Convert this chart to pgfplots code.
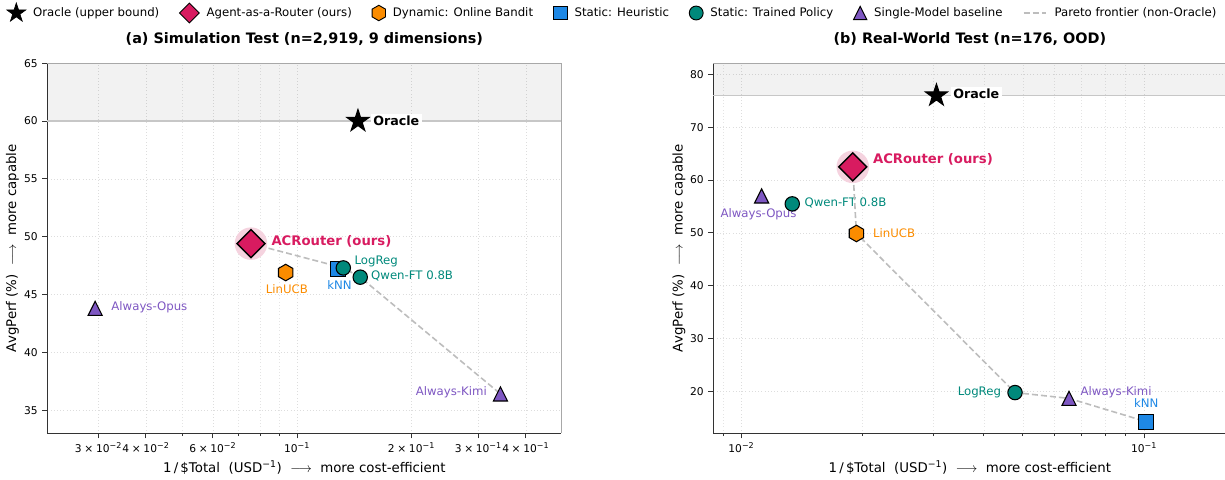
\documentclass[border=0pt]{standalone}
\usepackage{fontspec}
\setmainfont{DejaVu Sans}
\usepackage{pgfplots}
\pgfplotsset{compat=1.18}

\definecolor{crim}{HTML}{D81B60}
\definecolor{orng}{HTML}{FB8C00}
\definecolor{blu}{HTML}{1E88E5}
\definecolor{tealc}{HTML}{00897B}
\definecolor{purp}{HTML}{7E57C2}
\definecolor{pareto}{HTML}{BDBDBD}
\definecolor{gridc}{HTML}{DDDDDD}
\definecolor{spinedark}{HTML}{333333}
\definecolor{spinelight}{HTML}{A8A8A8}
\definecolor{halo}{HTML}{F5D3DF}

\pgfdeclareplotmark{fstar}{%
 \pgfpathmoveto{\pgfpointpolar{90}{\pgfplotmarksize}}%
 \pgfpathlineto{\pgfpointpolar{126}{0.382\pgfplotmarksize}}%
 \pgfpathlineto{\pgfpointpolar{162}{\pgfplotmarksize}}%
 \pgfpathlineto{\pgfpointpolar{198}{0.382\pgfplotmarksize}}%
 \pgfpathlineto{\pgfpointpolar{234}{\pgfplotmarksize}}%
 \pgfpathlineto{\pgfpointpolar{270}{0.382\pgfplotmarksize}}%
 \pgfpathlineto{\pgfpointpolar{306}{\pgfplotmarksize}}%
 \pgfpathlineto{\pgfpointpolar{342}{0.382\pgfplotmarksize}}%
 \pgfpathlineto{\pgfpointpolar{18}{\pgfplotmarksize}}%
 \pgfpathlineto{\pgfpointpolar{54}{0.382\pgfplotmarksize}}%
 \pgfpathclose\pgfusepathqfillstroke}
\pgfdeclareplotmark{fdiam}{%
 \pgfpathmoveto{\pgfpoint{0pt}{\pgfplotmarksize}}%
 \pgfpathlineto{\pgfpoint{\pgfplotmarksize}{0pt}}%
 \pgfpathlineto{\pgfpoint{0pt}{-\pgfplotmarksize}}%
 \pgfpathlineto{\pgfpoint{-\pgfplotmarksize}{0pt}}%
 \pgfpathclose\pgfusepathqfillstroke}
\pgfdeclareplotmark{fhex}{%
 \pgfpathmoveto{\pgfpointpolar{90}{\pgfplotmarksize}}%
 \pgfpathlineto{\pgfpointpolar{150}{\pgfplotmarksize}}%
 \pgfpathlineto{\pgfpointpolar{210}{\pgfplotmarksize}}%
 \pgfpathlineto{\pgfpointpolar{270}{\pgfplotmarksize}}%
 \pgfpathlineto{\pgfpointpolar{330}{\pgfplotmarksize}}%
 \pgfpathlineto{\pgfpointpolar{30}{\pgfplotmarksize}}%
 \pgfpathclose\pgfusepathqfillstroke}
\pgfdeclareplotmark{ftri}{%
 \pgfpathmoveto{\pgfpoint{0pt}{\pgfplotmarksize}}%
 \pgfpathlineto{\pgfpoint{-\pgfplotmarksize}{-\pgfplotmarksize}}%
 \pgfpathlineto{\pgfpoint{\pgfplotmarksize}{-\pgfplotmarksize}}%
 \pgfpathclose\pgfusepathqfillstroke}
\pgfdeclareplotmark{fdisc}{%
 \pgfpathcircle{\pgfpointorigin}{\pgfplotmarksize}%
 \pgfusepathqfill}

\tikzset{
  ann/.style={font=\fontsize{8.8}{10.5}\selectfont, text=#1, inner sep=0pt},
  annb/.style={font=\bfseries\fontsize{9.9}{12}\selectfont, text=#1, inner sep=0pt},
  orc/.style={font=\bfseries\fontsize{9.5}{11}\selectfont, text=black, fill=white, inner sep=1.8pt},
}
\newcommand{\tl}[2]{#1\kern0.25em×\kern0.25em10\textsuperscript{−#2}}
\pgfplotsset{
  mk/.style={only marks, forget plot, mark options={draw=black, line width=0.8pt, fill=#1}},
  mkd/.style={only marks, forget plot, mark=fdiam, mark size=10.5pt, mark options={draw=black, line width=1.1pt, fill=crim}},
  par/.style={pareto, line width=1.2pt, dash pattern=on 4.5pt off 2.3pt, forget plot},
  halomk/.style={only marks, forget plot, mark=fdisc, mark size=12.2pt, color=halo, mark options={fill=halo, draw=none}},
}

\begin{document}
\begin{tikzpicture}
\path[use as bounding box] (0,0) rectangle (918.75pt,359.25pt);

% ---------------- Left panel ----------------
\begin{axis}[
  scale only axis, height=277.5pt, xmode=log,
  axis x line*=bottom, axis y line*=left,
  axis line style={spinedark, line width=0.8pt},
  tick align=outside, tick style={spinedark, line width=0.8pt},
  major tick length=3.75pt, minor tick length=2.2pt,
  grid=both,
  major grid style={gridc, dotted, line width=0.5pt},
  minor grid style={gridc!80, dotted, line width=0.45pt},
  tick label style={font=\fontsize{8}{9.6}\selectfont},
  /pgf/number format/assume math mode=true,
  clip=false,
  label style={font=\fontsize{10}{12}\selectfont},
  title style={font=\bfseries\fontsize{10.8}{13}\selectfont, at={(0.5,1.0432)}, anchor=center},
  xlabel style={at={(axis description cs:0.5,-0.093)}, anchor=center},
  xlabel={1\,/\,\$Total\ \ (USD\textsuperscript{−1})\ \ $\longrightarrow$\ \ more cost-efficient},
  ylabel={AvgPerf (\%)\ \ $\longrightarrow$\ \ more capable},
  at={(35.5pt,34.3pt)}, anchor=south west, width=385.5pt,
  xmin=0.022, xmax=0.496, ymin=33, ymax=65,
  ytick={35,40,45,50,55,60,65},
  xtick={0.03,0.04,0.06,0.1,0.2,0.3,0.4},
  xticklabels={\tl{3}{2},\tl{4}{2},\tl{6}{2},10\textsuperscript{−1},\tl{2}{1},\tl{3}{1},\tl{4}{1}},
  minor xtick={0.05,0.07,0.08,0.09},
  ylabel style={at={(axis description cs:-0.068,0.5)}, anchor=center},
  title={(a) Simulation Test (n=2,919, 9 dimensions)},
  legend style={at={(1.1005,1.136)}, anchor=center, draw=none, fill=none,
    legend columns=7, font=\fontsize{8.8}{10.5}\selectfont,
    /tikz/every odd column/.append style={column sep=3.5pt},
    /tikz/every even column/.append style={column sep=13.2pt}},
  legend cell align=left,
]
\addlegendimage{only marks, mark=fstar, mark size=7.5pt, mark options={fill=black, draw=black, line width=0.5pt}}
\addlegendentry{Oracle (upper bound)}
\addlegendimage{only marks, mark=fdiam, mark size=7.4pt, mark options={fill=crim, draw=black, line width=0.7pt}}
\addlegendentry{Agent-as-a-Router (ours)}
\addlegendimage{only marks, mark=fhex, mark size=5.8pt, mark options={fill=orng, draw=black, line width=0.7pt}}
\addlegendentry{Dynamic: Online Bandit}
\addlegendimage{only marks, mark=square*, mark size=5.2pt, mark options={fill=blu, draw=black, line width=0.7pt}}
\addlegendentry{Static: Heuristic}
\addlegendimage{only marks, mark=*, mark size=5.2pt, mark options={fill=tealc, draw=black, line width=0.7pt}}
\addlegendentry{Static: Trained Policy}
\addlegendimage{only marks, mark=ftri, mark size=5pt, mark options={fill=purp, draw=black, line width=0.7pt}}
\addlegendentry{Single-Model baseline}
\addlegendimage{pareto, line width=1.2pt, dash pattern=on 4.5pt off 2.3pt}
\addlegendentry{Pareto frontier (non-Oracle)}

\addplot[draw=none, fill=black, fill opacity=0.05, forget plot] coordinates {(0.022,60) (0.496,60) (0.496,65) (0.022,65)} -- cycle;
\addplot[black!22, line width=0.9pt, forget plot] coordinates {(0.022,60) (0.496,60)};
\draw[spinelight, line width=0.8pt] (rel axis cs:0,1) -- (rel axis cs:1,1) -- (rel axis cs:1,0);

\addplot[par] coordinates {(0.0756,49.4) (0.1323,47.3) (0.1466,46.5) (0.343,36.4)};
\addplot[halomk] coordinates {(0.0756,49.4)};

\addplot[mk=purp, mark=ftri, mark size=5.3pt] coordinates {(0.0294,43.8) (0.343,36.4)};
\addplot[mk=orng, mark=fhex, mark size=6.2pt] coordinates {(0.0933,46.9)};
\addplot[mk=blu, mark=square*, mark size=5.7pt] coordinates {(0.1283,47.2)};
\addplot[mk=tealc, mark=*, mark size=5.4pt] coordinates {(0.1323,47.3) (0.1466,46.5)};
\addplot[mkd] coordinates {(0.0756,49.4)};
\addplot[mk=black, mark=fstar, mark size=8.7pt] coordinates {(0.1446,60)};

\node[orc, anchor=west, xshift=9.5pt] at (axis cs:0.1446,60) {Oracle};
\node[annb=crim, anchor=west, xshift=15.2pt, yshift=2pt] at (axis cs:0.0756,49.4) {ACRouter (ours)};
\node[ann=tealc, anchor=west, xshift=8.3pt, yshift=4.8pt] at (axis cs:0.1323,47.3) {LogReg};
\node[ann=tealc, anchor=west, xshift=8pt, yshift=1pt] at (axis cs:0.1466,46.5) {Qwen-FT 0.8B};
\node[ann=blu, anchor=center, xshift=1pt, yshift=-12.3pt] at (axis cs:0.1283,47.2) {kNN};
\node[ann=orng, anchor=center, xshift=0.9pt, yshift=-12.8pt] at (axis cs:0.0933,46.9) {LinUCB};
\node[ann=purp, anchor=west, xshift=12pt, yshift=0.75pt] at (axis cs:0.0294,43.8) {Always-Opus};
\node[ann=purp, anchor=east, xshift=-10pt, yshift=1pt] at (axis cs:0.343,36.4) {Always-Kimi};
\end{axis}

% ---------------- Right panel ----------------
\begin{axis}[
  scale only axis, height=277.5pt, xmode=log,
  axis x line*=bottom, axis y line*=left,
  axis line style={spinedark, line width=0.8pt},
  tick align=outside, tick style={spinedark, line width=0.8pt},
  major tick length=3.75pt, minor tick length=2.2pt,
  grid=both,
  major grid style={gridc, dotted, line width=0.5pt},
  minor grid style={gridc!80, dotted, line width=0.45pt},
  tick label style={font=\fontsize{8}{9.6}\selectfont},
  /pgf/number format/assume math mode=true,
  clip=false,
  label style={font=\fontsize{10}{12}\selectfont},
  title style={font=\bfseries\fontsize{10.8}{13}\selectfont, at={(0.5,1.0432)}, anchor=center},
  xlabel style={at={(axis description cs:0.5,-0.093)}, anchor=center},
  xlabel={1\,/\,\$Total\ \ (USD\textsuperscript{−1})\ \ $\longrightarrow$\ \ more cost-efficient},
  ylabel={AvgPerf (\%)\ \ $\longrightarrow$\ \ more capable},
  at={(535.1pt,34.3pt)}, anchor=south west, width=384.6pt,
  xmin=0.00852, xmax=0.16, ymin=12.1, ymax=82.1,
  ytick={20,30,40,50,60,70,80},
  xtick={0.01,0.1},
  xticklabels={10\textsuperscript{−2},10\textsuperscript{−1}},
  minor xtick={0.009,0.02,0.03,0.04,0.05,0.06,0.07,0.08,0.09},
  ylabel style={at={(axis description cs:-0.0673,0.5)}, anchor=center},
  title={(b) Real-World Test (n=176, OOD)},
]
\addplot[draw=none, fill=black, fill opacity=0.05, forget plot] coordinates {(0.00852,76) (0.16,76) (0.16,82.1) (0.00852,82.1)} -- cycle;
\addplot[black!22, line width=0.9pt, forget plot] coordinates {(0.00852,76) (0.16,76)};
\draw[spinelight, line width=0.8pt] (rel axis cs:0,1) -- (rel axis cs:1,1) -- (rel axis cs:1,0);

\node[ann=tealc, anchor=west, xshift=9pt, yshift=0.5pt] at (axis cs:0.01337,55.5) {Qwen-FT 0.8B};

\addplot[par] coordinates {(0.0189,62.5) (0.0193,49.9) (0.0478,19.8) (0.0651,18.7) (0.1012,14.3)};
\addplot[halomk] coordinates {(0.0189,62.5)};

\addplot[mk=purp, mark=ftri, mark size=5.3pt] coordinates {(0.01122,57.0) (0.0651,18.7)};
\addplot[mk=orng, mark=fhex, mark size=6.2pt] coordinates {(0.0193,49.9)};
\addplot[mk=blu, mark=square*, mark size=5.7pt] coordinates {(0.1012,14.3)};
\addplot[mk=tealc, mark=*, mark size=5.4pt] coordinates {(0.01337,55.5) (0.0478,19.8)};
\addplot[mkd] coordinates {(0.0189,62.5)};
\addplot[mk=black, mark=fstar, mark size=8.7pt] coordinates {(0.0305,76)};

\node[orc, anchor=west, xshift=10.6pt, yshift=1pt] at (axis cs:0.0305,76) {Oracle};
\node[annb=crim, anchor=west, xshift=15pt, yshift=5.5pt] at (axis cs:0.0189,62.5) {ACRouter (ours)};
\node[ann=purp, anchor=center, xshift=-2.3pt, yshift=-13.7pt] at (axis cs:0.01122,57.0) {Always-Opus};
\node[ann=orng, anchor=west, xshift=12.3pt] at (axis cs:0.0193,49.9) {LinUCB};
\node[ann=tealc, anchor=east, xshift=-10.3pt] at (axis cs:0.0478,19.8) {LogReg};
\node[ann=purp, anchor=west, xshift=8.5pt, yshift=4.5pt] at (axis cs:0.0651,18.7) {Always-Kimi};
\node[ann=blu, anchor=center, yshift=13.8pt] at (axis cs:0.1012,14.3) {kNN};
\end{axis}
\end{tikzpicture}
\end{document}
